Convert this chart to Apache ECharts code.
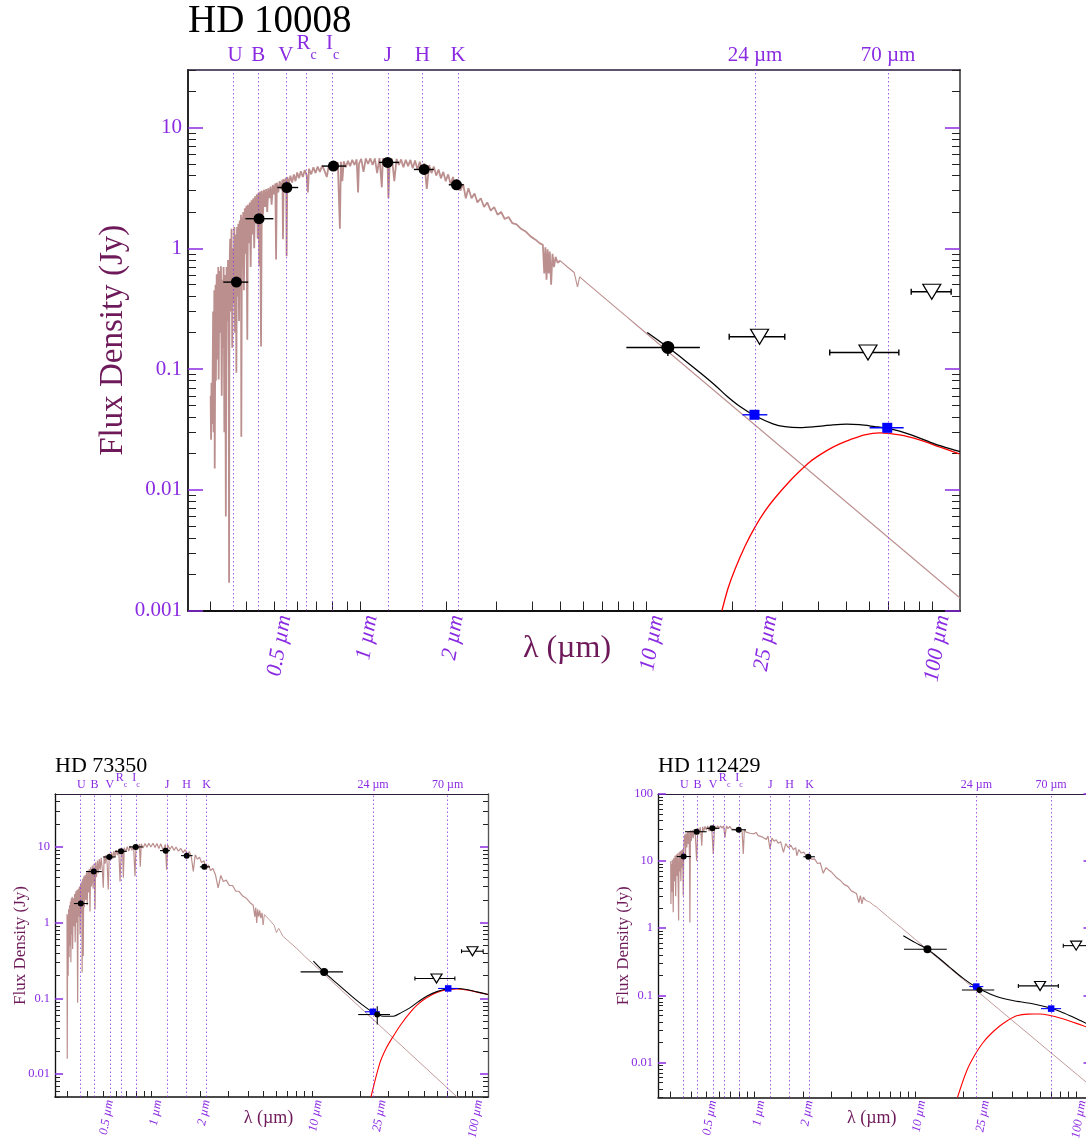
<!DOCTYPE html>
<html>
<head>
<meta charset="utf-8">
<title>Spectral energy distributions</title>
<script src="https://cdn.jsdelivr.net/npm/echarts@6/dist/echarts.min.js"></script>
<style>
  html, body { margin: 0; padding: 0; background: #ffffff; }
  #chart { width: 1086px; height: 1140px; }
</style>
</head>
<body>
<div id="chart"></div>
<script>
// ---------------------------------------------------------------------------
// Shared axis values
// ---------------------------------------------------------------------------
const wavelengthRange = [0.25, 125];                       // µm
const bandNames = ['U', 'B', 'V', 'Rc', 'Ic', 'J', 'H', 'K', '24 µm', '70 µm'];
const bandWaves = [0.365, 0.44, 0.55, 0.65, 0.80, 1.25, 1.65, 2.2, 24, 70];
const wavelengthLabels = [0.5, 1, 2, 10, 25, 100];
const tickMantissas = [1, 2, 3, 4, 5, 6, 7, 8, 9];
const smoothTailStart = 5;                                 // µm, where the line-free continuum begins

// ---------------------------------------------------------------------------
// HD 10008
// ---------------------------------------------------------------------------
const hd10008FluxRange = [0.001, 30];
const hd10008FluxLabels = [0.001, 0.01, 0.1, 1, 10];
// stellar photosphere model: [λ µm, Fν Jy]
const hd10008Spectrum = [
  [0.300,0.060],[0.301,0.026],[0.302,0.077],[0.304,0.035],[0.306,0.30],[0.307,0.03],[0.309,0.45],[0.310,0.015],
  [0.312,0.50],[0.313,0.08],[0.315,0.61],[0.317,0.12],[0.319,0.70],[0.320,0.082],[0.322,0.65],[0.324,0.20],
  [0.326,0.71],[0.328,0.06],[0.330,0.55],[0.331,0.15],[0.333,0.70],[0.335,0.03],[0.337,0.60],[0.339,0.006],
  [0.341,0.70],[0.343,0.25],[0.345,0.80],[0.347,0.10],[0.348,0.0017],[0.349,0.60],[0.351,1.2],[0.353,0.30],
  [0.355,1.45],[0.357,0.15],[0.359,1.0],[0.361,0.35],[0.363,1.5],[0.365,0.20],[0.367,1.3],[0.369,0.093],
  [0.371,1.5],[0.373,0.40],[0.375,1.6],[0.377,0.25],[0.379,1.7],[0.381,0.55],[0.383,1.9],[0.384,0.0275],
  [0.386,1.8],[0.388,0.70],[0.390,2.0],[0.392,0.45],[0.395,2.15],[0.397,0.90],[0.400,2.25],[0.403,0.175],
  [0.405,2.3],[0.408,1.1],[0.411,2.4],[0.414,0.70],[0.417,2.5],[0.420,1.3],[0.423,2.6],[0.426,1.0],
  [0.429,2.7],[0.432,1.6],[0.435,2.8],[0.438,1.2],[0.441,2.9],[0.444,0.71],[0.447,2.95],[0.450,0.154],
  [0.453,3.0],[0.457,1.9],[0.461,3.05],[0.465,2.2],[0.469,3.1],[0.473,2.0],[0.477,3.15],[0.481,2.6],
  [0.486,3.25],[0.490,2.3],[0.495,3.35],[0.500,2.8],[0.505,3.45],[0.508,0.81],[0.511,3.5],[0.517,2.9],
  [0.523,3.6],[0.529,3.1],[0.535,3.7],[0.537,1.19],[0.540,3.75],[0.546,3.3],[0.551,3.85],[0.553,0.86],
  [0.556,3.9],[0.563,3.4],[0.570,4.0],[0.578,3.5],[0.586,4.1],[0.594,3.6],[0.602,4.25],[0.611,3.8],
  [0.620,4.35],[0.630,3.9],[0.640,4.45],[0.650,4.0],[0.656,2.9],[0.662,4.55],[0.674,4.1],[0.686,4.7],
  [0.698,4.2],[0.710,4.75],[0.723,4.3],[0.736,4.85],[0.750,4.4],[0.764,3.9],[0.778,4.95],[0.792,4.5],
  [0.806,5.08],[0.820,4.6],[0.835,5.15],[0.849,1.45],[0.856,5.2],[0.866,3.6],[0.876,5.25],[0.891,4.7],
  [0.906,5.3],[0.922,4.8],[0.938,5.4],[0.955,4.9],[0.972,5.45],[0.983,2.9],[0.990,5.0],[1.008,5.5],
  [1.027,4.3],[1.046,5.55],[1.065,5.0],[1.085,5.55],[1.105,4.9],[1.125,5.55],[1.146,4.2],[1.168,5.58],
  [1.190,3.2],[1.200,5.58],[1.222,5.0],[1.245,5.55],[1.255,2.6],[1.268,5.2],[1.292,5.52],[1.316,3.6],
  [1.340,5.5],[1.365,4.9],[1.390,5.45],[1.416,4.7],[1.443,5.42],[1.470,4.8],[1.498,5.4],[1.526,4.6],
  [1.555,5.35],[1.585,4.5],[1.615,5.2],[1.646,4.5],[1.677,5.05],[1.709,3.1],[1.742,4.9],[1.775,4.2],
  [1.809,4.75],[1.844,4.0],[1.879,4.5],[1.915,3.8],[1.952,4.3],[1.990,3.6],[2.03,4.1],[2.07,3.4],
  [2.11,3.9],[2.15,3.2],[2.19,3.72],[2.24,3.0],[2.29,3.4],[2.34,2.6],[2.39,3.15],[2.45,2.6],
  [2.51,2.85],[2.57,2.4],[2.64,2.6],[2.71,2.2],[2.78,2.4],[2.86,2.05],[2.94,2.2],[3.02,1.9],
  [3.11,2.0],[3.20,1.75],[3.30,1.82],[3.40,1.62],[3.52,1.58],[3.65,1.45],[3.80,1.37],[3.95,1.25],
  [4.10,1.18],[4.25,1.10],[4.35,1.07],[4.40,0.62],[4.44,1.02],[4.48,0.55],[4.52,0.98],[4.56,0.62],
  [4.60,0.94],[4.65,0.50],[4.70,0.90],[4.76,0.70],[4.82,0.85],[4.90,0.76],[5.00,0.79],[5.3,0.70],
  [5.6,0.63],[5.75,0.48],[5.85,0.58],[6.2,0.515],[6.6,0.455],[7.0,0.404],[7.4,0.362],[8.0,0.309],
  [8.6,0.268],[9.2,0.234],[10,0.198],[125,0.00127]
];
// photometry: [λ, Fν, λ low, λ high, (Fν low, Fν high)]
const hd10008Phot = [
  [0.369, 0.525, 0.332, 0.406], [0.443, 1.76, 0.397, 0.497], [0.554, 3.19, 0.513, 0.607],
  [0.806, 4.80, 0.736, 0.892], [1.247, 5.15, 1.163, 1.366], [1.673, 4.50, 1.540, 1.808],
  [2.17, 3.36, 2.04, 2.30]
];
const hd10008Iras = [[11.9, 0.151, 8.52, 15.4, 0.128, 0.171]];
const hd10008Mips = [[23.9, 0.0418, 21.7, 26.5], [69.6, 0.0326, 60.4, 79.4]];
const hd10008Limits = [[24.9, 0.185, 19.5, 30.5], [59.6, 0.137, 43.8, 76.4], [99.6, 0.437, 84.4, 116.4]];
// star + dust model and the dust component alone
const hd10008Total = [
  [10.08,0.2006],[11.93,0.1506],[13.68,0.1174],[15.43,0.0933],[17.40,0.0735],
  [19.16,0.0595],[21.27,0.0489],[23.99,0.0410],[27.73,0.0352],[30.52,0.0333],
  [34.43,0.0327],[38.84,0.0333],[44.87,0.0345],[50.22,0.0350],[55.74,0.0346],[62.88,0.0334],
  [69.23,0.0324],[76.88,0.0306],[88.11,0.0274],[101.8,0.0240],[122.4,0.0210],[125,0.0207]
];
const hd10008Disk = [
  [18.4,0.001],[19.32,0.00153],[20.43,0.00220],[22.14,0.00341],[23.99,0.00491],[26.0,0.00667],
  [28.18,0.00855],[31.78,0.01183],[34.43,0.01432],[37.32,0.01702],[40.44,0.01945],[43.82,0.02182],
  [47.47,0.0240],[51.44,0.02592],[58.02,0.02851],[65.45,0.02963],[76.88,0.02851],[90.25,0.02592],
  [105.9,0.02267],[124.4,0.01983]
];

// ---------------------------------------------------------------------------
// HD 73350
// ---------------------------------------------------------------------------
const hd73350FluxRange = [0.005, 50];
const hd73350FluxLabels = [0.01, 0.1, 1, 10];
const hd73350Spectrum = [
  [0.297,1.30],[0.298,0.016],[0.300,1.25],[0.302,0.20],[0.304,1.5],[0.306,0.35],[0.308,1.7],[0.310,0.5],
  [0.312,1.9],[0.314,0.3],[0.316,2.1],[0.318,0.7],[0.320,2.2],[0.322,0.45],[0.325,2.1],[0.328,0.9],
  [0.331,2.4],[0.334,0.55],[0.337,2.6],[0.340,1.0],[0.343,2.7],[0.346,0.088],[0.349,2.8],[0.352,1.2],
  [0.355,3.0],[0.358,0.7],[0.361,3.2],[0.364,1.3],[0.367,3.5],[0.369,0.22],[0.372,3.8],[0.375,0.36],
  [0.378,4.1],[0.381,1.6],[0.385,4.3],[0.389,2.0],[0.393,4.6],[0.397,1.7],[0.401,4.9],[0.405,2.5],
  [0.409,5.1],[0.413,1.41],[0.417,5.4],[0.422,3.0],[0.427,5.7],[0.432,2.8],[0.437,6.0],[0.441,3.6],
  [0.444,1.49],[0.448,6.3],[0.454,4.0],[0.460,6.6],[0.466,4.5],[0.472,6.9],[0.478,5.0],[0.485,7.2],
  [0.492,5.3],[0.500,2.9],[0.506,7.6],[0.513,6.0],[0.520,7.8],[0.528,6.2],[0.537,2.74],[0.545,8.2],
  [0.554,6.8],[0.563,8.5],[0.572,7.0],[0.582,8.8],[0.592,7.4],[0.602,9.1],[0.613,7.8],[0.624,9.4],
  [0.636,3.5],[0.648,9.6],[0.660,8.2],[0.667,3.93],[0.675,9.8],[0.690,8.6],[0.705,10.1],[0.720,8.8],
  [0.737,10.3],[0.754,9.0],[0.772,10.5],[0.788,4.1],[0.800,10.7],[0.820,9.3],[0.840,10.9],[0.850,5.5],
  [0.862,11.0],[0.885,9.7],[0.910,11.1],[0.935,9.9],[0.960,11.2],[0.990,10.0],[1.02,11.2],[1.05,9.8],
  [1.08,11.1],[1.11,9.5],[1.14,11.0],[1.18,9.0],[1.22,10.8],[1.24,5.0],[1.26,10.6],[1.30,9.3],
  [1.34,10.3],[1.38,9.0],[1.42,10.0],[1.47,8.8],[1.52,9.6],[1.57,8.4],[1.62,9.2],[1.67,8.0],
  [1.72,8.7],[1.77,7.3],[1.82,4.76],[1.87,7.9],[1.93,6.9],[1.99,7.3],[2.05,6.2],[2.12,6.6],
  [2.19,5.0],[2.26,5.8],[2.33,4.9],[2.41,5.2],[2.50,4.3],[2.60,2.88],[2.70,4.2],[2.80,3.5],
  [2.92,3.65],[3.05,3.1],[3.20,3.1],[3.35,2.6],[3.50,2.6],[3.70,2.25],[3.90,2.1],[4.1,1.85],
  [4.3,1.7],[4.40,1.2],[4.46,1.58],[4.52,0.99],[4.58,1.5],[4.65,1.2],[4.72,1.45],[4.80,1.15],
  [4.88,1.35],[4.96,0.94],[5.05,1.28],[5.4,1.10],[5.8,0.93],[6.0,0.74],[6.2,0.84],[6.6,0.66],
  [7.2,0.56],[8.0,0.46],[9.0,0.36],[10,0.294],[125,0.0021]
];
const hd73350Phot = [
  [0.362, 1.79, 0.328, 0.402], [0.436, 4.73, 0.390, 0.489], [0.545, 7.38, 0.500, 0.597],
  [0.645, 8.75, 0.591, 0.700], [0.796, 10.0, 0.723, 0.880], [1.224, 8.94, 1.128, 1.302],
  [1.655, 7.68, 1.525, 1.80], [2.13, 5.46, 2.00, 2.31], [25.5, 0.0613, 19.4, 30.6, 0.0453, 0.0789]
];
const hd73350Iras = [[11.9, 0.224, 8.49, 15.6]];
const hd73350Mips = [[23.97, 0.0667, 21.4, 26.5], [70.6, 0.1355, 61.1, 81.5]];
const hd73350Limits = [[59.7, 0.183, 43.8, 77.7], [100, 0.42, 85.5, 116.6]];
const hd73350Total = [
  [10.2,0.31],[11.9,0.222],[14.3,0.158],[17.2,0.1125],[20.5,0.083],[23.97,0.0658],[27.8,0.0582],
  [32.1,0.0582],[36.0,0.065],[40.7,0.0751],[45.8,0.090],[51.8,0.107],[60.0,0.123],[70.6,0.134],
  [80.5,0.135],[91.9,0.131],[107,0.122],[125,0.1125]
];
const hd73350Disk = [
  [23.3,0.005],[26.5,0.0141],[29.0,0.0220],[32.1,0.0317],[36.0,0.046],[40.7,0.0646],[45.8,0.084],
  [51.8,0.102],[60.0,0.120],[70.6,0.131],[80.5,0.133],[91.9,0.1295],[107,0.121],[125,0.1125]
];

// ---------------------------------------------------------------------------
// HD 112429
// ---------------------------------------------------------------------------
const hd112429FluxRange = [0.003, 100];
const hd112429FluxLabels = [0.01, 0.1, 1, 10, 100];
const hd112429Spectrum = [
  [0.300,10.0],[0.301,2.3],[0.303,9.0],[0.305,3.5],[0.307,10.5],[0.309,4.5],[0.311,1.73],[0.313,11.0],
  [0.316,5.0],[0.319,12.0],[0.322,3.0],[0.325,12.5],[0.328,6.0],[0.331,13.0],[0.334,4.0],[0.336,1.30],
  [0.338,13.5],[0.341,7.0],[0.344,14.0],[0.347,5.0],[0.350,14.5],[0.353,8.0],[0.356,15.0],[0.359,3.05],
  [0.362,16.0],[0.365,22.0],[0.368,25.0],[0.371,12.0],[0.374,26.0],[0.378,16.0],[0.382,27.0],[0.386,18.0],
  [0.390,28.0],[0.393,10.0],[0.395,1.22],[0.398,28.5],[0.403,20.0],[0.408,29.0],[0.414,22.0],[0.420,30.0],
  [0.427,24.0],[0.435,10.1],[0.442,31.0],[0.450,25.0],[0.458,32.0],[0.463,26.0],[0.468,17.0],[0.474,32.5],
  [0.482,28.0],[0.490,33.0],[0.500,29.0],[0.510,33.5],[0.520,28.0],[0.530,33.7],[0.541,29.0],[0.552,12.8],
  [0.563,33.7],[0.575,30.0],[0.588,33.7],[0.600,30.5],[0.613,33.7],[0.626,31.0],[0.640,33.6],[0.653,22.6],
  [0.667,33.5],[0.682,30.5],[0.700,33.0],[0.718,30.0],[0.737,32.0],[0.756,29.5],[0.775,31.2],[0.795,28.5],
  [0.815,30.3],[0.835,27.5],[0.849,12.8],[0.862,29.5],[0.885,27.0],[0.910,28.7],[0.935,26.0],[0.960,27.8],
  [0.99,25.5],[1.02,26.8],[1.05,24.0],[1.08,25.6],[1.11,23.0],[1.14,24.6],[1.18,21.0],[1.21,23.6],
  [1.245,15.2],[1.28,22.0],[1.32,19.8],[1.36,20.8],[1.40,18.5],[1.45,19.5],[1.51,13.5],[1.56,18.2],
  [1.62,15.8],[1.68,17.2],[1.74,14.8],[1.80,15.9],[1.83,12.0],[1.88,14.8],[1.95,13.2],[2.02,13.6],
  [2.10,11.8],[2.18,12.2],[2.27,10.6],[2.36,10.8],[2.46,9.2],[2.56,9.4],[2.67,6.6],[2.78,8.0],
  [2.90,7.3],[3.02,6.8],[3.2,5.8],[3.4,5.2],[3.6,4.5],[3.8,4.2],[4.0,3.6],[4.3,3.3],
  [4.45,2.4],[4.55,3.05],[4.65,2.3],[4.75,2.9],[4.9,2.6],[5.2,2.45],[5.5,2.2],[5.75,2.06],
  [6.2,1.75],[6.7,1.50],[7.2,1.30],[7.66,1.16],[10,0.68],[125,0.00436]
];
const hd112429Phot = [
  [0.361, 11.7, 0.327, 0.400], [0.435, 27.4, 0.368, 0.502], [0.545, 30.8, 0.502, 0.599],
  [0.795, 29.3, 0.719, 0.883], [2.157, 11.6, 2.01, 2.37], [25.1, 0.12, 19.5, 31.0, 0.108, 0.133]
];
const hd112429Iras = [[11.9, 0.486, 8.50, 15.7]];
const hd112429Mips = [[23.97, 0.135, 21.7, 26.5], [70.1, 0.0633, 60.6, 80.8]];
const hd112429Limits = [[59.8, 0.138, 43.8, 77.7], [100.3, 0.55, 83.4, 116.7]];
const hd112429Total = [
  [8.42,0.773],[10.0,0.61],[11.9,0.486],[14.0,0.36],[16.4,0.261],[19.8,0.180],[23.97,0.1315],
  [29.2,0.1045],[33.5,0.093],[38.9,0.0851],[45.0,0.080],[51.8,0.076],[60.0,0.0705],[70.1,0.064],
  [80.5,0.057],[91.9,0.0497],[103,0.0437],[115.6,0.0383],[125,0.035]
];
const hd112429Disk = [
  [18.3,0.003],[20.9,0.0075],[23.5,0.0130],[26.5,0.020],[29.8,0.0272],[33.7,0.0352],[38.0,0.0430],
  [42.8,0.0497],[50.0,0.0525],[59.8,0.0526],[69.0,0.0500],[79.6,0.0459],[95.0,0.0400],[115.6,0.034],
  [125,0.0315]
];

// ---------------------------------------------------------------------------
// Styling
// ---------------------------------------------------------------------------
const SERIF = 'Liberation Serif';
const PURPLE = '#8A2BE2';
const MAROON = '#6E1A5A';
const PHOTOSPHERE = '#BC8F8F';

const styles = {
  big: {
    title: 39, titleTop: 2, band: 21, bandSub: 14, bandRaise: 12, bandMargin: 4,
    tickLabel: 21, yLabelMargin: 6, xLabel: 22, xLabelMargin: 3, xLabelRotate: 80,
    axisName: 33, yNameGap: 58, xName: 32, xNameGap: 22, xNameShift: 14,
    minorLen: 8, majorLen: 15, xTickLen: 9, axisW: 2,
    dot: 11, bigDot: 13, square: 10, tri: [18, 15], err: 1.4, cap: 3, line: 1.3, spec: 1.8, tail: 1.1
  },
  small: {
    title: 22, titleTop: 755, band: 12, bandSub: 8, bandRaise: 7, bandMargin: 3,
    tickLabel: 12.5, yLabelMargin: 5, xLabel: 12.5, xLabelMargin: 2, xLabelRotate: 80,
    axisName: 17, yNameGap: 26, xName: 18, xNameGap: 12, xNameShift: 6,
    minorLen: 5, majorLen: 8, xTickLen: 6, axisW: 1.5,
    dot: 6, bigDot: 8, square: 6.5, tri: [11, 9], err: 1.1, cap: 2, line: 1.1, spec: 1.2, tail: 0.9
  }
};

const panels = [
  { name: 'HD 10008', size: 'big', box: { left: 188, top: 70, width: 772, height: 540.5 },
    fluxRange: hd10008FluxRange, fluxLabels: hd10008FluxLabels, spectrum: hd10008Spectrum,
    phot: hd10008Phot, iras: hd10008Iras, mips: hd10008Mips, limits: hd10008Limits,
    total: hd10008Total, disk: hd10008Disk },
  { name: 'HD 73350', size: 'small', box: { left: 55, top: 794, width: 433, height: 303 },
    fluxRange: hd73350FluxRange, fluxLabels: hd73350FluxLabels, spectrum: hd73350Spectrum,
    phot: hd73350Phot, iras: hd73350Iras, mips: hd73350Mips, limits: hd73350Limits,
    total: hd73350Total, disk: hd73350Disk },
  { name: 'HD 112429', size: 'small', box: { left: 658, top: 794, width: 433.5, height: 303.5 },
    fluxRange: hd112429FluxRange, fluxLabels: hd112429FluxLabels, spectrum: hd112429Spectrum,
    phot: hd112429Phot, iras: hd112429Iras, mips: hd112429Mips, limits: hd112429Limits,
    total: hd112429Total, disk: hd112429Disk }
];

// ---------------------------------------------------------------------------
// Helpers
// ---------------------------------------------------------------------------
const LOG = Math.log10;

function logTicks(min, max, withDecades) {
  const out = [];
  for (let e = Math.floor(LOG(min)); e <= Math.ceil(LOG(max)); e++) {
    tickMantissas.forEach(m => {
      if (m === 1 && !withDecades) return;
      const v = m * Math.pow(10, e);
      if (v >= min * 0.999 && v <= max * 1.001) out.push(LOG(v));
    });
  }
  return out;
}

function nearest(list, logValue) {
  let best = list[0], d = Infinity;
  list.forEach(w => { const dd = Math.abs(LOG(w) - logValue); if (dd < d) { d = dd; best = w; } });
  return best;
}

function errorBarSeries(rows, color, s, xi, yi, withCaps, z) {
  return {
    type: 'custom', xAxisIndex: xi, yAxisIndex: yi, z, silent: true,
    data: rows.map(r => [r[0], r[1]]),
    renderItem(params, api) {
      const r = rows[params.dataIndex];
      const style = { stroke: color, lineWidth: s.err };
      const a = api.coord([r[2], r[1]]);
      const b = api.coord([r[3], r[1]]);
      const children = [{ type: 'line', shape: { x1: a[0], y1: a[1], x2: b[0], y2: b[1] }, style }];
      if (withCaps) {
        [a, b].forEach(p => children.push({
          type: 'line', shape: { x1: p[0], y1: p[1] - s.cap, x2: p[0], y2: p[1] + s.cap }, style
        }));
      }
      if (r.length > 5) {
        const c = api.coord([r[0], r[4]]);
        const d = api.coord([r[0], r[5]]);
        children.push({ type: 'line', shape: { x1: c[0], y1: c[1], x2: d[0], y2: d[1] }, style });
      }
      return { type: 'group', children };
    }
  };
}

// ---------------------------------------------------------------------------
// Option
// ---------------------------------------------------------------------------
const option = {
  animation: false,
  backgroundColor: '#ffffff',
  textStyle: { fontFamily: SERIF },
  title: [], grid: [], xAxis: [], yAxis: [], series: []
};

panels.forEach((p, gi) => {
  const s = styles[p.size];
  const [xmin, xmax] = wavelengthRange;
  const [ymin, ymax] = p.fluxRange;

  option.title.push({
    text: p.name, left: p.box.left, top: s.titleTop, padding: 0,
    textStyle: { fontFamily: SERIF, fontSize: s.title, fontWeight: 'normal', color: '#000' }
  });

  option.grid.push({
    left: p.box.left, top: p.box.top, width: p.box.width, height: p.box.height,
    containLabel: false, outerBoundsMode: 'none', show: false
  });

  // x axes: data (log), bottom ticks + labels, top band labels
  const xData = option.xAxis.length;
  option.xAxis.push({ type: 'log', logBase: 10, gridIndex: gi, min: xmin, max: xmax, show: false });
  option.xAxis.push({
    type: 'value', gridIndex: gi, position: 'bottom', offset: 0,
    min: LOG(xmin), max: LOG(xmax), splitLine: { show: false },
    axisLine: { show: true, onZero: false, lineStyle: { color: '#111', width: s.axisW } },
    axisTick: { show: true, inside: true, length: s.xTickLen, customValues: logTicks(xmin, xmax, true),
                lineStyle: { color: '#222', width: 1 } },
    axisLabel: {
      customValues: wavelengthLabels.map(LOG),
      formatter: v => nearest(wavelengthLabels, v) + ' µm',
      rotate: s.xLabelRotate, verticalAlign: 'top', margin: s.xLabelMargin,
      color: PURPLE, fontFamily: SERIF, fontStyle: 'italic', fontSize: s.xLabel
    },
    name: 'λ (µm)', nameLocation: 'middle', nameGap: s.xNameGap, nameMoveOverlap: false,
    nameTextStyle: { color: MAROON, fontFamily: SERIF, fontSize: s.xName, padding: [0, s.xNameShift, 0, 0] }
  });
  option.xAxis.push({
    type: 'value', gridIndex: gi, position: 'top', offset: 0,
    min: LOG(xmin), max: LOG(xmax), splitLine: { show: false },
    axisLine: { show: true, onZero: false, lineStyle: { color: '#2b1a3d', width: s.axisW * 0.8 } },
    axisTick: { show: false },
    axisLabel: {
      customValues: bandWaves.map(LOG),
      formatter: v => {
        const name = bandNames[bandWaves.indexOf(nearest(bandWaves, v))];
        if (name === 'Rc' || name === 'Ic') return '{m|' + name[0] + '}{s|c}';
        return '{n|' + name + '}';
      },
      margin: s.bandMargin, color: PURPLE, fontFamily: SERIF,
      rich: {
        n: { fontSize: s.band, color: PURPLE, fontFamily: SERIF },
        m: { fontSize: s.band, color: PURPLE, fontFamily: SERIF, padding: [0, 0, s.bandRaise, 0] },
        s: { fontSize: s.bandSub, color: PURPLE, fontFamily: SERIF, padding: [s.bandRaise, 0, 0, 0] }
      }
    }
  });

  // y axes: data (log), left minor, left major + labels, right minor, right major
  const yData = option.yAxis.length;
  const yBase = { type: 'value', gridIndex: gi, offset: 0, min: LOG(ymin), max: LOG(ymax), splitLine: { show: false } };
  option.yAxis.push({ type: 'log', logBase: 10, gridIndex: gi, min: ymin, max: ymax, show: false });
  option.yAxis.push(Object.assign({}, yBase, {
    position: 'left',
    axisLine: { show: true, onZero: false, lineStyle: { color: '#111', width: s.axisW * 0.9 } },
    axisTick: { show: true, inside: true, length: s.minorLen, customValues: logTicks(ymin, ymax, false),
                lineStyle: { color: '#222', width: 1 } },
    axisLabel: { show: false },
    name: 'Flux Density (Jy)', nameLocation: 'middle', nameRotate: 90, nameGap: s.yNameGap,
    nameMoveOverlap: false,
    nameTextStyle: { color: MAROON, fontFamily: SERIF, fontSize: s.axisName }
  }));
  option.yAxis.push(Object.assign({}, yBase, {
    position: 'left',
    axisLine: { show: false, onZero: false },
    axisTick: { show: true, inside: true, length: s.majorLen, customValues: p.fluxLabels.map(LOG),
                lineStyle: { color: PURPLE, width: 1.5 } },
    axisLabel: { customValues: p.fluxLabels.map(LOG), formatter: v => String(nearest(p.fluxLabels, v)),
                 margin: s.yLabelMargin, color: PURPLE, fontFamily: SERIF, fontSize: s.tickLabel }
  }));
  option.yAxis.push(Object.assign({}, yBase, {
    position: 'right',
    axisLine: { show: true, onZero: false, lineStyle: { color: '#555', width: s.axisW * 0.9 } },
    axisTick: { show: true, inside: true, length: s.minorLen, customValues: logTicks(ymin, ymax, false),
                lineStyle: { color: '#222', width: 1 } },
    axisLabel: { show: false }
  }));
  option.yAxis.push(Object.assign({}, yBase, {
    position: 'right',
    axisLine: { show: false, onZero: false },
    axisTick: { show: true, inside: true, length: s.majorLen, customValues: p.fluxLabels.map(LOG),
                lineStyle: { color: PURPLE, width: 1.5 } },
    axisLabel: { show: false }
  }));

  const on = { xAxisIndex: xData, yAxisIndex: yData };

  // stellar photosphere: the line-crowded part is drawn heavier than the smooth tail,
  // and the photometric band positions are marked on it
  option.series.push(Object.assign({
    type: 'line', data: p.spectrum.filter(d => d[0] <= smoothTailStart), symbol: 'none', silent: true, z: 2,
    lineStyle: { color: PHOTOSPHERE, width: s.spec, join: 'bevel' },
    markLine: {
      silent: true, symbol: ['none', 'none'], label: { show: false },
      lineStyle: { color: PURPLE, type: [1.5, 2.5], width: 1, opacity: 0.75 },
      data: bandWaves.map(w => ({ xAxis: w }))
    }
  }, on));
  const tailFrom = p.spectrum.findIndex(d => d[0] >= smoothTailStart);
  option.series.push(Object.assign({
    type: 'line', data: p.spectrum.slice(Math.max(0, tailFrom - 1)), symbol: 'none', silent: true, z: 2,
    lineStyle: { color: PHOTOSPHERE, width: s.tail }
  }, on));
  // cold dust emission and the star + dust total
  option.series.push(Object.assign({
    type: 'line', data: p.disk, symbol: 'none', smooth: 0.3, silent: true, z: 3,
    lineStyle: { color: '#FF0000', width: s.line }
  }, on));
  option.series.push(Object.assign({
    type: 'line', data: p.total, symbol: 'none', smooth: 0.3, silent: true, z: 4,
    lineStyle: { color: '#000000', width: s.line }
  }, on));

  // error bars
  option.series.push(errorBarSeries(p.phot.concat(p.iras), '#000', s, xData, yData, false, 5));
  option.series.push(errorBarSeries(p.limits, '#000', s, xData, yData, true, 5));
  option.series.push(errorBarSeries(p.mips, '#0000FF', s, xData, yData, false, 5));

  // markers
  option.series.push(Object.assign({
    type: 'scatter', data: p.mips.map(r => [r[0], r[1]]), symbol: 'rect', symbolSize: s.square,
    itemStyle: { color: '#0000FF', opacity: 1 }, silent: true, z: 6
  }, on));
  option.series.push(Object.assign({
    type: 'scatter', data: p.phot.map(r => [r[0], r[1]]), symbol: 'circle', symbolSize: s.dot,
    itemStyle: { color: '#000', opacity: 1 }, silent: true, z: 7
  }, on));
  option.series.push(Object.assign({
    type: 'scatter', data: p.iras.map(r => [r[0], r[1]]), symbol: 'circle', symbolSize: s.bigDot,
    itemStyle: { color: '#000', opacity: 1 }, silent: true, z: 7
  }, on));
  option.series.push(Object.assign({
    type: 'scatter', data: p.limits.map(r => [r[0], r[1]]), symbol: 'triangle', symbolRotate: 180,
    symbolSize: s.tri, itemStyle: { color: '#fff', borderColor: '#000', borderWidth: 1.2, opacity: 1 },
    silent: true, z: 7
  }, on));
});

const chart = echarts.init(document.getElementById('chart'), null, { renderer: 'canvas' });
chart.setOption(option);
</script>
</body>
</html>
